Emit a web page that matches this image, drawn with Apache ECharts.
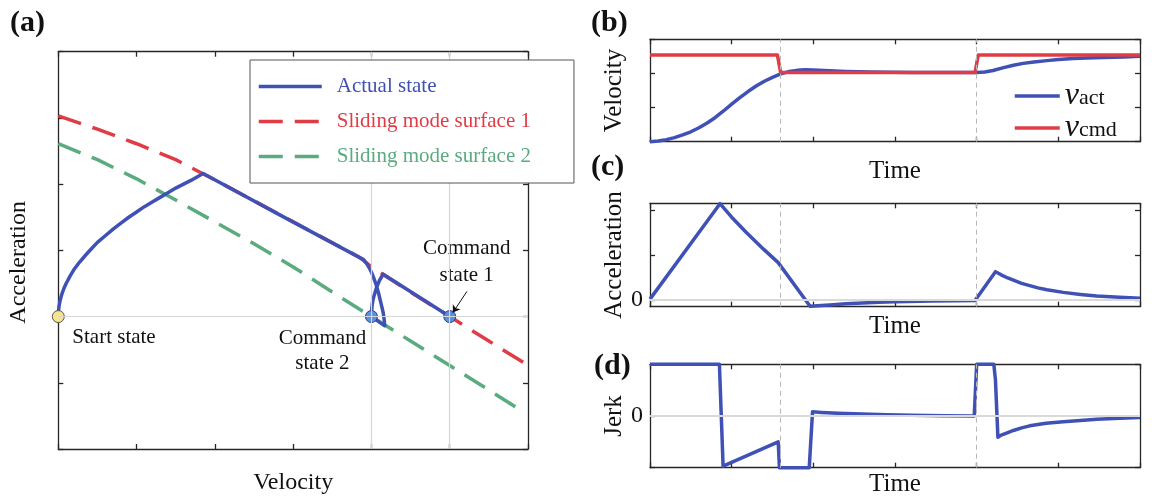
<!DOCTYPE html>
<html>
<head>
<meta charset="utf-8">
<script src="https://cdn.jsdelivr.net/npm/echarts@6/dist/echarts.min.js"></script>
<style>
  html, body { margin: 0; padding: 0; background: #fff; }
  #chart { width: 1152px; height: 500px; }
</style>
</head>
<body>
<div id="chart"></div>
<script>
// (a) phase plane, [velocity, acceleration]
const actualState = [[0,0],[0.003,0.09],[0.01,0.16],[0.025,0.25],[0.04,0.32],[0.07,0.42],[0.1,0.5],
  [0.15,0.61],[0.2,0.71],[0.27,0.82],[0.35,0.93],[0.42,1.02],[0.5,1.12],[0.6,1.22],[0.7,1.32],[0.8,1.41],
  [0.9,1.5],[1.0,1.58],[1.1,1.66],[1.2,1.73],[1.3,1.8],[1.4,1.87],[1.5,1.94],[1.6,2.0],[1.7,2.06],
  [1.85,2.16],[2.9,1.49],[3.9,0.86],[3.94,0.8],[3.97,0.74],[4.0,0.67],[4.03,0.58],[4.06,0.48],[4.09,0.36],
  [4.11,0.26],[4.13,0.16],[4.15,0.06],[4.16,-0.02],[4.17,-0.14],[4,0],[4.003,0.1],[4.01,0.18],[4.02,0.25],
  [4.03,0.3],[4.045,0.36],[4.06,0.42],[4.08,0.48],[4.1,0.54],[4.125,0.59],[4.15,0.64],[5,0]];
const surface1 = [[0,3.03],[0.5,2.83],[1,2.61],[1.5,2.37],[2,2.065],[2.5,1.748],[3,1.431],[3.5,1.114],
  [3.85,0.892],[4,0.75],[4.5,0.37],[5,0],[5.5,-0.37],[5.95,-0.7]];
const surface2 = [[0,2.61],[0.5,2.37],[1,2.08],[1.5,1.76],[2,1.43],[2.5,1.1],[3,0.75],[3.5,0.37],[4,0],
  [4.5,-0.37],[5,-0.74],[5.5,-1.11],[5.86,-1.38]];
const startState = [[0,0]];
const commandStates = [[4,0],[5,0]];

// (b)(c)(d) time histories, [time, value]
const switchTimes = [1.6, 4.0];
const velAct = [[0,0],[0.1,0.04],[0.2,0.12],[0.3,0.24],[0.4,0.4],[0.5,0.58],[0.6,0.82],[0.7,1.1],
  [0.8,1.42],[0.9,1.8],[1.0,2.2],[1.1,2.58],[1.2,2.94],[1.3,3.26],[1.4,3.54],[1.5,3.77],[1.6,3.97],
  [1.7,4.11],[1.8,4.18],[1.9,4.21],[2.0,4.2],[2.2,4.16],[2.4,4.12],[2.7,4.08],[3.2,4.05],[4.0,4.05],
  [4.1,4.08],[4.2,4.17],[4.33,4.34],[4.45,4.48],[4.57,4.59],[4.7,4.67],[4.86,4.75],[5.0,4.81],
  [5.18,4.87],[5.35,4.91],[5.55,4.94],[5.8,4.97],[6,5.0]];
const velCmd = [[0,5.08],[1.56,5.08],[1.6,4.05],[3.98,4.05],[4.02,5.08],[6,5.08]];
const accel = [[0,0.02],[0.857,2.14],[1.0,1.84],[1.18,1.5],[1.39,1.13],[1.57,0.83],[1.96,-0.14],
  [2.05,-0.125],[2.2,-0.11],[2.4,-0.085],[2.6,-0.065],[2.8,-0.05],[3.0,-0.04],[3.45,-0.02],[3.98,-0.01],
  [4.23,0.63],[4.3,0.56],[4.38,0.49],[4.45,0.44],[4.55,0.37],[4.65,0.32],[4.75,0.27],[4.86,0.23],
  [5.06,0.17],[5.27,0.125],[5.47,0.09],[5.75,0.06],[6,0.04]];
const jerk = [[0,1],[0.85,1],[0.895,-0.97],[1.57,-0.5],[1.585,-1],[1.95,-1],[1.99,0.08],[2.1,0.07],
  [2.3,0.055],[2.6,0.04],[2.9,0.025],[3.2,0.013],[3.6,0.005],[3.97,0],[4.0,1],[4.21,1],[4.23,0.7],
  [4.26,-0.41],[4.3,-0.37],[4.35,-0.34],[4.45,-0.28],[4.55,-0.23],[4.65,-0.19],[4.85,-0.14],[5.06,-0.11],
  [5.27,-0.085],[5.47,-0.065],[5.75,-0.045],[6,-0.03]];

const FONT = 'Liberation Serif';
const AX = '#262626';
const BLUE = '#3f51b5';
const RED = '#e03c46';
const GREEN = '#5aab7e';
const DASH = [24, 12];
const LW = 3.5;

const chart = echarts.init(document.getElementById('chart'), null, { renderer: 'canvas' });

const axisBase = {
  type: 'value',
  axisLine: { show: true, onZero: false, lineStyle: { color: AX, width: 1.3 } },
  axisTick: { show: true, inside: true, length: 5, lineStyle: { color: AX, width: 1.3 } },
  axisLabel: { show: false },
  splitLine: { show: false }
};

function nameStyle(size, extra) {
  return Object.assign({ fontFamily: FONT, fontSize: size, color: '#111' }, extra || {});
}

// bottom + mirrored top x axis for one grid
function xAxes(g, name, gap, size) {
  const r = { gridIndex: g, min: 0, max: 6, interval: 1 };
  return [
    Object.assign({}, axisBase, r, { position: 'bottom', name: name, nameLocation: 'middle',
      nameGap: gap, nameMoveOverlap: false, nameTextStyle: nameStyle(size) }),
    Object.assign({}, axisBase, r, { position: 'top' })
  ];
}

// left + mirrored right y axis for one grid
function yAxes(g, range, name, gap, size, extra) {
  const r = Object.assign({ gridIndex: g }, range);
  const left = Object.assign({}, axisBase, r, { position: 'left', name: name, nameLocation: 'middle',
    nameGap: gap, nameMoveOverlap: false, nameTextStyle: nameStyle(size, extra && extra.nameText) });
  const right = Object.assign({}, axisBase, r, { position: 'right' });
  if (extra && extra.tick) {
    left.axisTick = Object.assign({}, axisBase.axisTick, { customValues: extra.tick });
    right.axisTick = left.axisTick;
  }
  if (extra && extra.label) {
    left.axisLabel = { show: true, customValues: extra.label, margin: 7,
      fontFamily: FONT, fontSize: 24, color: '#111' };
  }
  return [left, right];
}

const xAxis = [].concat(
  xAxes(0, 'Velocity', 22, 24),
  xAxes(1, 'Time', 17, 25),
  xAxes(2, 'Time', 7, 25),
  xAxes(3, 'Time', 4, 25)
);
const yAxis = [].concat(
  yAxes(0, { min: -2, max: 4, interval: 1 }, 'Acceleration', 28, 24, { nameText: { padding: [0, 24, 0, 0] } }),
  yAxes(1, { min: 0, max: 6, interval: 2 }, 'Velocity', 23, 25),
  yAxes(2, { min: -0.148, max: 2.148 }, 'Acceleration', 23, 25, { tick: [0, 1, 2], label: [0] }),
  yAxes(3, { min: -1, max: 1, interval: 1 }, 'Jerk', 23, 25, { tick: [-1, 0, 1], label: [0] })
);

const gridLine = { color: '#d6d6d6', width: 1.2, type: 'solid' };
const zeroLine = { color: '#d9d9d9', width: 2.2, type: 'solid' };
const switchLine = { color: '#b8b8b8', width: 1, type: [5, 4] };

function guideSeries(g, lines) {
  return {
    type: 'line', xAxisIndex: 2 * g, yAxisIndex: 2 * g, data: [[0, 0]], showSymbol: false,
    lineStyle: { opacity: 0 }, silent: true, z: 1,
    markLine: { silent: true, symbol: 'none', label: { show: false }, animation: false, data: lines }
  };
}

function switchMarks() {
  return switchTimes.map(t => ({ xAxis: t, lineStyle: switchLine }));
}

function curve(name, g, data, color, z, dash) {
  return {
    name: name, type: 'line', xAxisIndex: 2 * g, yAxisIndex: 2 * g, data: data,
    symbol: 'none', clip: false, z: z,
    lineStyle: { color: color, width: LW, type: dash || 'solid', join: 'round' },
    itemStyle: { color: color }
  };
}

const labelText = { fontFamily: FONT, fontSize: 21, color: '#111' };

const series = [
  guideSeries(0, [
    { xAxis: 4, lineStyle: gridLine },
    { xAxis: 5, lineStyle: gridLine },
    { yAxis: 0, lineStyle: gridLine }
  ]),
  curve('Sliding mode surface 1', 0, surface1, RED, 2, DASH),
  curve('Sliding mode surface 2', 0, surface2, GREEN, 2, DASH),
  curve('Actual state', 0, actualState, BLUE, 3),
  {
    type: 'scatter', xAxisIndex: 0, yAxisIndex: 0, z: 4, symbolSize: 12,
    itemStyle: { color: '#f8e48a', borderColor: '#555', borderWidth: 1, opacity: 1 },
    data: startState.map(p => ({
      value: p,
      label: Object.assign({ show: true, position: 'inside', align: 'left', verticalAlign: 'middle',
        offset: [14, 21], formatter: 'Start state' }, labelText)
    }))
  },
  {
    type: 'scatter', xAxisIndex: 0, yAxisIndex: 0, z: 4, symbolSize: 12,
    itemStyle: { color: '#5b8fe0', borderColor: '#2f3f86', borderWidth: 1, opacity: 1 },
    data: [
      { value: commandStates[0], label: Object.assign({ show: true, position: 'inside', align: 'center',
        verticalAlign: 'middle', offset: [-49, 34], lineHeight: 25, formatter: 'Command\nstate 2' }, labelText) },
      { value: commandStates[1], label: Object.assign({ show: true, position: 'inside', align: 'center',
        verticalAlign: 'middle', offset: [17, -55], lineHeight: 27, formatter: 'Command\nstate 1' }, labelText) }
    ],
    markLine: {
      silent: true, symbol: ['none', 'arrow'], symbolSize: 7, label: { show: false },
      lineStyle: { color: '#111', width: 1, type: 'solid' },
      data: [[{ coord: [5.22, 0.38] }, { coord: [5.04, 0.06] }]]
    }
  },

  guideSeries(1, switchMarks()),
  curve('vact', 1, velAct, BLUE, 2),
  curve('vcmd', 1, velCmd, RED, 3),

  guideSeries(2, [{ yAxis: 0, lineStyle: zeroLine }].concat(switchMarks())),
  curve('Acceleration', 2, accel, BLUE, 2),

  guideSeries(3, [{ yAxis: 0, lineStyle: zeroLine }].concat(switchMarks())),
  curve('Jerk', 3, jerk, BLUE, 2)
];

const panelLabel = (txt, x, y) => ({
  type: 'text', left: x, top: y,
  style: { text: txt, fontFamily: FONT, fontSize: 30, fontWeight: 'bold', fill: '#111' }
});

const option = {
  animation: false,
  backgroundColor: '#fff',
  grid: [
    { left: 58.3, top: 51.7, width: 469.7, height: 397.3 },
    { left: 650, top: 39.3, width: 490, height: 102.4 },
    { left: 650, top: 203.3, width: 490, height: 103.4 },
    { left: 650, top: 364.3, width: 490, height: 103.4 }
  ],
  xAxis: xAxis,
  yAxis: yAxis,
  legend: [
    {
      data: [
        { name: 'Actual state', textStyle: { color: BLUE } },
        { name: 'Sliding mode surface 1', textStyle: { color: RED }, lineStyle: { type: DASH, width: LW } },
        { name: 'Sliding mode surface 2', textStyle: { color: GREEN }, lineStyle: { type: DASH, width: LW } }
      ],
      orient: 'vertical', left: 250, top: 60, itemWidth: 63, itemHeight: 14, itemGap: 14,
      padding: [16, 43, 16, 7], borderColor: '#555', borderWidth: 1, backgroundColor: '#fff',
      itemStyle: { opacity: 0 },
      lineStyle: { width: LW },
      textStyle: { fontFamily: FONT, fontSize: 21, lineHeight: 21, padding: [0, 0, 0, 10] },
      selectedMode: false, z: 10
    },
    {
      data: ['vact', 'vcmd'],
      orient: 'vertical', left: 1013, top: 80, itemWidth: 45, itemHeight: 14, itemGap: 0, padding: 0,
      itemStyle: { opacity: 0 },
      lineStyle: { width: LW },
      formatter: n => n === 'vact' ? '{v|v}{s|act}' : '{v|v}{s|cmd}',
      textStyle: {
        color: '#111',
        rich: {
          v: { fontFamily: FONT, fontSize: 32, fontStyle: 'italic', lineHeight: 26, color: '#111' },
          s: { fontFamily: FONT, fontSize: 22, lineHeight: 16, verticalAlign: 'bottom', color: '#111' }
        }
      },
      selectedMode: false, z: 10
    }
  ],
  graphic: [
    panelLabel('(a)', 10, 8),
    panelLabel('(b)', 591, 8),
    panelLabel('(c)', 591, 152),
    panelLabel('(d)', 594, 351)
  ],
  series: series
};

chart.setOption(option);
window.addEventListener('resize', () => chart.resize());
</script>
</body>
</html>
